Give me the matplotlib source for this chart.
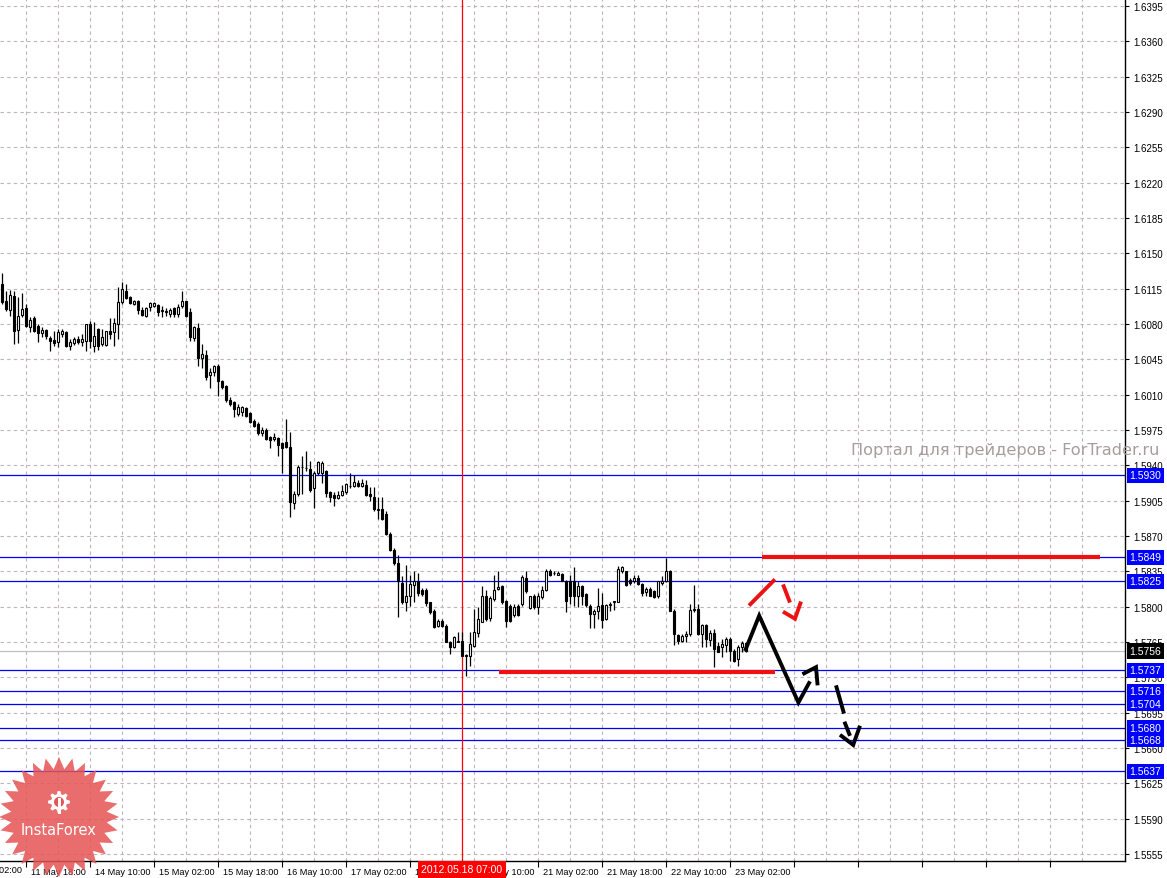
import numpy as np
import matplotlib
matplotlib.use("Agg")
import matplotlib.pyplot as plt
from matplotlib.patches import Polygon
from matplotlib.transforms import ScaledTranslation, blended_transform_factory

# ---------------- data (H1 bars, bar index = hour bar) ----------------
opens = [1.6120,1.6103,1.6094,1.6108,1.6074,1.6089,1.6096,1.6077,1.6086,1.6078,
1.6071,1.6074,1.6066,1.6064,1.6062,1.6070,1.6072,1.6058,1.6061,1.6065,
1.6062,1.6063,1.6080,1.6058,1.6075,1.6060,1.6059,1.6073,1.6072,1.6080,
1.6102,1.6113,1.6107,1.6100,1.6103,1.6094,1.6088,1.6097,1.6098,1.6099,
1.6093,1.6093,1.6090,1.6096,1.6090,1.6098,1.6103,1.6092,1.6066,1.6076,
1.6046,1.6049,1.6029,1.6032,1.6038,1.6023,1.6019,1.6005,1.6003,1.5991,
1.5993,1.5997,1.5992,1.5984,1.5981,1.5972,1.5975,1.5968,1.5966,1.5967,
1.5962,1.5963,1.5958,1.5903,1.5912,1.5938,1.5937,1.5936,1.5917,1.5932,
1.5932,1.5934,1.5914,1.5911,1.5908,1.5911,1.5914,1.5919,1.5919,1.5922,
1.5919,1.5920,1.5912,1.5909,1.5896,1.5897,1.5892,1.5872,1.5856,1.5843,
1.5823,1.5805,1.5811,1.5821,1.5825,1.5816,1.5816,1.5805,1.5796,1.5781,
1.5786,1.5781,1.5765,1.5760,1.5765,1.5766,1.5752,1.5751,1.5761,1.5774,
1.5785,1.5811,1.5789,1.5808,1.5817,1.5820,1.5806,1.5801,1.5792,1.5801,
1.5803,1.5828,1.5799,1.5811,1.5800,1.5810,1.5816,1.5835,1.5833,1.5831,
1.5832,1.5825,1.5825,1.5825,1.5811,1.5820,1.5812,1.5801,1.5793,1.5796,
1.5802,1.5788,1.5802,1.5805,1.5805,1.5835,1.5835,1.5826,1.5825,1.5828,
1.5822,1.5814,1.5817,1.5815,1.5811,1.5823,1.5825,1.5835,1.5796,1.5772,
1.5766,1.5771,1.5773,1.5797,1.5798,1.5773,1.5782,1.5767,1.5774,1.5761,
1.5760,1.5762,1.5768,1.5756,1.5748,1.5760,1.5764]
highs = [1.6130,1.6113,1.6114,1.6113,1.6107,1.6111,1.6100,1.6087,1.6088,1.6080,
1.6077,1.6075,1.6068,1.6073,1.6075,1.6075,1.6073,1.6065,1.6067,1.6068,
1.6070,1.6080,1.6083,1.6082,1.6076,1.6075,1.6073,1.6086,1.6086,1.6117,
1.6122,1.6120,1.6108,1.6104,1.6104,1.6097,1.6097,1.6102,1.6102,1.6100,
1.6098,1.6096,1.6096,1.6097,1.6100,1.6113,1.6103,1.6096,1.6078,1.6081,
1.6060,1.6054,1.6036,1.6039,1.6040,1.6024,1.6020,1.6008,1.6004,1.6001,
1.5999,1.5998,1.5993,1.5986,1.5983,1.5978,1.5977,1.5969,1.5972,1.5968,
1.5963,1.5986,1.5973,1.5915,1.5940,1.5949,1.5954,1.5944,1.5934,1.5944,
1.5944,1.5935,1.5915,1.5914,1.5915,1.5920,1.5922,1.5932,1.5930,1.5925,
1.5926,1.5925,1.5918,1.5918,1.5909,1.5909,1.5895,1.5874,1.5858,1.5851,
1.5830,1.5841,1.5831,1.5835,1.5833,1.5818,1.5818,1.5805,1.5798,1.5788,
1.5788,1.5783,1.5766,1.5771,1.5775,1.5775,1.5753,1.5775,1.5798,1.5800,
1.5820,1.5816,1.5811,1.5831,1.5835,1.5821,1.5807,1.5803,1.5803,1.5803,
1.5831,1.5835,1.5811,1.5812,1.5813,1.5820,1.5837,1.5837,1.5835,1.5835,
1.5833,1.5826,1.5831,1.5839,1.5825,1.5821,1.5813,1.5803,1.5798,1.5818,
1.5813,1.5803,1.5805,1.5806,1.5840,1.5840,1.5835,1.5828,1.5831,1.5831,
1.5823,1.5819,1.5819,1.5816,1.5825,1.5830,1.5848,1.5836,1.5798,1.5773,
1.5773,1.5776,1.5803,1.5821,1.5803,1.5783,1.5783,1.5777,1.5778,1.5765,
1.5768,1.5770,1.5770,1.5758,1.5762,1.5766,1.5765]
lows = [1.6100,1.6093,1.6088,1.6060,1.6061,1.6087,1.6077,1.6072,1.6072,1.6062,
1.6067,1.6065,1.6053,1.6058,1.6057,1.6067,1.6057,1.6054,1.6059,1.6060,
1.6058,1.6053,1.6056,1.6052,1.6054,1.6058,1.6058,1.6065,1.6058,1.6065,
1.6100,1.6105,1.6100,1.6099,1.6090,1.6088,1.6087,1.6093,1.6097,1.6088,
1.6087,1.6088,1.6087,1.6087,1.6087,1.6096,1.6087,1.6063,1.6063,1.6038,
1.6036,1.6024,1.6017,1.6028,1.6009,1.6016,1.6003,1.5999,1.5988,1.5989,
1.5989,1.5988,1.5982,1.5978,1.5970,1.5969,1.5965,1.5957,1.5964,1.5949,
1.5932,1.5957,1.5889,1.5897,1.5910,1.5912,1.5934,1.5914,1.5898,1.5930,
1.5922,1.5909,1.5904,1.5900,1.5907,1.5910,1.5912,1.5917,1.5918,1.5918,
1.5918,1.5910,1.5905,1.5895,1.5887,1.5886,1.5871,1.5855,1.5841,1.5790,
1.5803,1.5796,1.5801,1.5805,1.5811,1.5811,1.5801,1.5793,1.5779,1.5780,
1.5780,1.5765,1.5753,1.5759,1.5765,1.5751,1.5731,1.5741,1.5760,1.5770,
1.5785,1.5786,1.5786,1.5806,1.5816,1.5803,1.5780,1.5785,1.5790,1.5791,
1.5801,1.5813,1.5798,1.5798,1.5793,1.5808,1.5815,1.5830,1.5831,1.5831,
1.5825,1.5795,1.5803,1.5801,1.5800,1.5802,1.5800,1.5779,1.5779,1.5788,
1.5779,1.5787,1.5796,1.5797,1.5805,1.5833,1.5820,1.5821,1.5823,1.5821,
1.5811,1.5811,1.5811,1.5809,1.5809,1.5821,1.5824,1.5796,1.5762,1.5763,
1.5765,1.5765,1.5771,1.5795,1.5772,1.5760,1.5760,1.5761,1.5740,1.5755,
1.5750,1.5755,1.5746,1.5745,1.5741,1.5755,1.5755]
closes = [1.6102,1.6095,1.6109,1.6073,1.6088,1.6095,1.6078,1.6084,1.6073,1.6071,
1.6074,1.6068,1.6063,1.6061,1.6072,1.6073,1.6058,1.6062,1.6065,1.6062,
1.6065,1.6080,1.6063,1.6068,1.6058,1.6067,1.6073,1.6070,1.6081,1.6102,
1.6115,1.6106,1.6101,1.6103,1.6094,1.6089,1.6096,1.6101,1.6101,1.6092,
1.6093,1.6092,1.6094,1.6090,1.6097,1.6103,1.6088,1.6067,1.6077,1.6046,
1.6050,1.6027,1.6032,1.6038,1.6023,1.6018,1.6005,1.6001,1.5996,1.5998,
1.5998,1.5989,1.5983,1.5979,1.5972,1.5975,1.5966,1.5965,1.5968,1.5960,
1.5957,1.5958,1.5904,1.5912,1.5938,1.5938,1.5937,1.5916,1.5932,1.5943,
1.5942,1.5913,1.5909,1.5908,1.5911,1.5915,1.5921,1.5919,1.5923,1.5919,
1.5922,1.5911,1.5910,1.5897,1.5896,1.5887,1.5872,1.5856,1.5843,1.5825,
1.5805,1.5811,1.5822,1.5825,1.5813,1.5812,1.5804,1.5795,1.5780,1.5786,
1.5781,1.5765,1.5760,1.5770,1.5766,1.5751,1.5751,1.5763,1.5775,1.5788,
1.5811,1.5788,1.5809,1.5816,1.5819,1.5805,1.5786,1.5786,1.5800,1.5792,
1.5829,1.5815,1.5811,1.5800,1.5811,1.5816,1.5835,1.5831,1.5833,1.5833,
1.5825,1.5806,1.5811,1.5811,1.5820,1.5811,1.5802,1.5793,1.5796,1.5801,
1.5787,1.5802,1.5802,1.5805,1.5837,1.5839,1.5821,1.5823,1.5828,1.5822,
1.5813,1.5817,1.5811,1.5810,1.5825,1.5825,1.5835,1.5796,1.5773,1.5766,
1.5771,1.5773,1.5797,1.5797,1.5773,1.5782,1.5768,1.5774,1.5758,1.5755,
1.5763,1.5768,1.5756,1.5746,1.5760,1.5764,1.5756]

# time axis labels (every 16 bars, first one at bar -10)
time_labels = ["11 May 02:00", "11 May 18:00", "14 May 10:00", "15 May 02:00",
               "15 May 18:00", "16 May 10:00", "17 May 02:00", "17 May 18:00",
               "18 May 10:00", "21 May 02:00", "21 May 18:00", "22 May 10:00",
               "23 May 02:00"]
first_label_bar = -10
label_step = 16

# horizontal levels
levels = [1.5930, 1.5849, 1.5825, 1.5737, 1.5716, 1.5704, 1.5680, 1.5668, 1.5637]
bid = 1.5756
cursor_bar = 115
cursor_label = "2012.05.18 07:00"

# drawn annotations (bar, price)
red_level_hi = (190, 274.5, 1.5849)
red_level_lo = (124.25, 193.25, 1.5735)
red_arrow_1 = [(186.75, 1.5801), (193.25, 1.5827)]
red_arrow_2 = [(195.25, 1.5822), (197.0, 1.5804)]
red_arrow_head = [(195.25, 1.5795), (198.25, 1.5788), (199.75, 1.5805)]
black_path = [(185.75, 1.5756), (189.3, 1.5791), (199.1, 1.5705), (202.0, 1.5726)]
black_head = [(200.1, 1.5733), (203.5, 1.5740), (203.9, 1.5722)]
black_dash_1 = [(208.5, 1.5722), (210.5, 1.5694)]
black_dash_2 = [(210.6, 1.5686), (212.0, 1.5672)]
black_dash_head = [(209.5, 1.5673), (212.8, 1.5663), (214.5, 1.5682)]

y_ticks_top = 1.6395
y_tick_step = 0.0035
n_yticks = 25

# ---------------- figure ----------------
W, H = 1167, 879
fig = plt.figure(figsize=(W / 100, H / 100), dpi=100)
fig.patch.set_facecolor("white")
ax = fig.add_axes([0, 17 / H, 1125 / W, 862 / H])
ax.set_facecolor("white")
ax.set_xlim(-0.5, 280.75)
ax.set_ylim(1.55480, 1.64019)

FONT = "Liberation Sans"
grid_color = "#bfb3bf"

# grid
xmaj = [first_label_bar + label_step * k for k in range(1, 18)]
xmin = [first_label_bar + 8 + label_step * k for k in range(0, 18)]
for x in xmaj + xmin:
    ax.axvline(x, color=grid_color, lw=0.8, ls=(0, (3, 3)), zorder=0.5)
yticks = [round(y_ticks_top - y_tick_step * k, 4) for k in range(n_yticks)]
for y in yticks:
    ax.axhline(y, color=grid_color, lw=0.8, ls=(0, (3, 3)), zorder=0.5)

# levels
for lv in levels:
    ax.axhline(lv, color="#0000ff", lw=0.9, zorder=1)
ax.axhline(bid, color="#c0c0c0", lw=0.9, zorder=1)
ax.axvline(cursor_bar, color="#ff0000", lw=0.9, zorder=1)

# candles
o = np.array(opens); h = np.array(highs); l = np.array(lows); c = np.array(closes)
idx = np.arange(len(o))
ax.vlines(idx, l, h, color="black", lw=0.9, zorder=3)
bull = c >= o
bot = np.minimum(o, c)
hgt = np.maximum(np.abs(c - o), 0.00004)
ax.bar(idx[bull], hgt[bull], bottom=bot[bull], width=0.55, color="white",
       edgecolor="black", linewidth=0.8, zorder=4)
ax.bar(idx[~bull], hgt[~bull], bottom=bot[~bull], width=0.55, color="black",
       edgecolor="black", linewidth=0.8, zorder=4)

# drawn red levels and arrows
ax.hlines(red_level_hi[2], red_level_hi[0], red_level_hi[1], color="#ee1111", lw=3, zorder=5)
ax.hlines(red_level_lo[2], red_level_lo[0], red_level_lo[1], color="#ee1111", lw=3, zorder=5)
for seg, col in [(red_arrow_1, "#ee1111"), (red_arrow_2, "#ee1111"), (red_arrow_head, "#ee1111"),
                 (black_path, "black"), (black_head, "black"), (black_dash_1, "black"),
                 (black_dash_2, "black"), (black_dash_head, "black")]:
    xs, ys = zip(*seg)
    ax.plot(xs, ys, color=col, lw=2.8, solid_capstyle="butt", solid_joinstyle="miter", zorder=6)

# spines
for s in ["top", "left"]:
    ax.spines[s].set_visible(False)
for s in ["right", "bottom"]:
    ax.spines[s].set_color("black")
    ax.spines[s].set_linewidth(1.0)

# y axis
ax.yaxis.tick_right()
ax.set_yticks(yticks)
ax.set_yticklabels([f"{y:.4f}" for y in yticks], fontfamily=FONT, fontsize=7)
ax.tick_params(axis="y", direction="out", length=3, width=0.8, pad=3, colors="black")

# x axis
ax.set_xticks(xmaj)
lab = time_labels[1:] + [""] * (len(xmaj) - len(time_labels) + 1)
ax.set_xticklabels(lab, fontfamily=FONT, fontsize=6.6, ha="left")
ax.tick_params(axis="x", direction="out", length=4, width=0.8, pad=0.5, colors="black")
off = ScaledTranslation(5 / 100, 0, fig.dpi_scale_trans)
for t in ax.get_xticklabels():
    t.set_transform(t.get_transform() + off)
bt = blended_transform_factory(ax.transData, ax.transAxes)
ax.text(first_label_bar, 0, time_labels[0],
        transform=bt + ScaledTranslation(5 / 100, -4.5 / 100, fig.dpi_scale_trans),
        ha="left", va="top", fontfamily=FONT, fontsize=6.6, clip_on=False)

# level label boxes
rt = blended_transform_factory(ax.transAxes, ax.transData)
for lv in levels:
    ax.text(1.0, lv, f"{lv:.4f}", transform=rt + ScaledTranslation(4.5 / 100, 0, fig.dpi_scale_trans),
            ha="left", va="center", color="white", fontfamily=FONT, fontsize=7.5,
            bbox=dict(boxstyle="square,pad=0.25", fc="#0000ff", ec="none"), clip_on=False, zorder=10)
ax.text(1.0, bid, f"{bid:.4f}", transform=rt + ScaledTranslation(4.5 / 100, 0, fig.dpi_scale_trans),
        ha="left", va="center", color="white", fontfamily=FONT, fontsize=7.5,
        bbox=dict(boxstyle="square,pad=0.25", fc="black", ec="none"), clip_on=False, zorder=10)

# cursor time box
ax.text(cursor_bar, 0, cursor_label, transform=bt + ScaledTranslation(0, -3.5 / 100, fig.dpi_scale_trans),
        ha="center", va="top", color="white", fontfamily=FONT, fontsize=7.5,
        bbox=dict(boxstyle="square,pad=0.3", fc="#ff0000", ec="none"), clip_on=False, zorder=10)

# watermark
fig.text(851 / W, 1 - 451 / H, "Портал для трейдеров - ForTrader.ru", ha="left", va="center",
         fontsize=11.6, color="#a89c9c", fontfamily="DejaVu Sans")

# InstaForex logo (starburst)
def fp(x, y):
    return (x / W, 1 - y / H)
cx, cy = 59, 818
n = 28
pts = []
for k in range(2 * n):
    r = 60 if k % 2 == 0 else 48
    a = np.pi / 2 + np.pi * k / n
    pts.append(fp(cx + r * np.cos(a), cy - r * np.sin(a)))
fig.add_artist(Polygon(pts, closed=True, transform=fig.transFigure, fc="#e65454", ec="none", alpha=0.85))
# gear
gx, gy = 59, 803
gpts = []
for k in range(16):
    r = 11 if k % 2 == 0 else 8
    a = np.pi * k / 8
    for da in (-0.12, 0.12):
        gpts.append(fp(gx + r * np.cos(a + da), gy - r * np.sin(a + da)))
fig.add_artist(Polygon(gpts, closed=True, transform=fig.transFigure, fc="white", ec="none"))
fig.add_artist(Polygon([fp(gx + 5 * np.cos(t), gy - 5 * np.sin(t)) for t in np.linspace(0, 2 * np.pi, 30)],
                       closed=True, transform=fig.transFigure, fc="#e65454", ec="none"))
fig.add_artist(Polygon([fp(gx - 1.5, gy - 4), fp(gx + 1.5, gy - 4), fp(gx + 1.5, gy + 12), fp(gx - 1.5, gy + 12)],
                       closed=True, transform=fig.transFigure, fc="white", ec="none"))
fig.text(cx / W, 1 - 831 / H, "InstaForex", ha="center", va="center", color="white",
         fontsize=10.5, fontfamily="DejaVu Sans")

fig.savefig("out.png", dpi=100, facecolor="white")
